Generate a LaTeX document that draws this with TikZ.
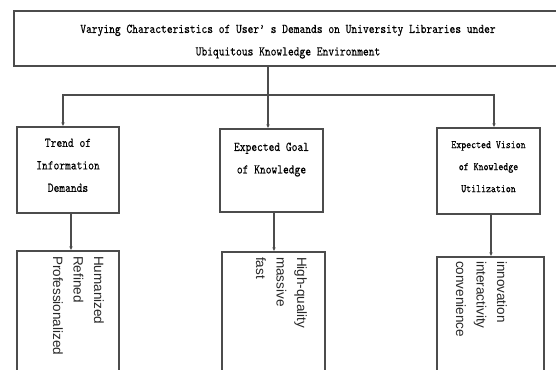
\documentclass[tikz,border=0pt]{standalone}
\usepackage{fontspec}
\setsansfont{Liberation Sans}
\newfontfamily\simfont[FakeStretch=0.82, FakeBold=0.3]{lmmono10-regular.otf}
\usetikzlibrary{arrows.meta}
\tikzstyle{box} = [draw=black!70, line width=1.1pt, rectangle, inner sep=0pt]
\tikzstyle{heading} = [align=center, inner sep=0pt, anchor=north, font=\simfont\fontsize{13.4}{22.5}\selectfont]
\tikzstyle{small heading} = [heading, font=\simfont\fontsize{11.5}{22}\selectfont]
\tikzstyle{items} = [align=left, inner sep=0pt, rotate=-90, anchor=north west, text=black!85, font=\sffamily\fontsize{13.5}{20.5}\selectfont]
\tikzstyle{link} = [draw=black!70, line width=1.1pt]
\tikzstyle{flow} = [link, -{Latex[length=4pt, width=3.5pt]}]

\begin{document}
\begin{tikzpicture}[x=1pt, y=-1pt]
    \useasboundingbox (0,0) rectangle (556,369);

    \node (title) [box, minimum width=548pt, minimum height=55pt] at (288,38.5) {};
    \node (title text) [heading] at ([yshift=-14pt]title.north) {Varying Characteristics of User’ s Demands on University Libraries under\\Ubiquitous Knowledge Environment};

    \node (trend) [box, minimum width=102pt, minimum height=86pt] at (68,170) {};
    \node (goal) [box, minimum width=103pt, minimum height=83pt] at (271.5,170.5) {};
    \node (vision) [box, minimum width=103pt, minimum height=86pt] at (488.5,171) {};

    \node (trend text) [heading] at ([yshift=-12pt]trend.north) {Trend of\\Information\\Demands};
    \node (goal text) [heading] at ([yshift=-14pt]goal.north) {Expected Goal\\of Knowledge};
    \node (vision text) [small heading] at ([yshift=-13.5pt]vision.north) {Expected Vision\\of Knowledge\\Utilization};

    \node (trend-list) [box, minimum width=102pt, minimum height=130pt] at (68,316) {};
    \node (goal-list) [box, minimum width=103pt, minimum height=130pt] at (273.5,317) {};
    \node (vision-list) [box, minimum width=107pt, minimum height=125pt] at (490.5,319.5) {};

    \node (trend items) [items] at (104,256) {Humanized\\Refined\\Professionalized};
    \node (goal items) [items] at (307,257) {High-quality\\massive\\fast};
    \node (vision items) [items] at (507,261) {innovation\\interactivity\\convenience};

    \coordinate (fork) at (268,95);
    \coordinate (fork left) at (63,95);
    \coordinate (fork right) at (494,95);

    \draw [link] (title.south -| fork) -- (fork);
    \draw [flow] (fork) -- (fork |- goal.north);
    \draw [flow] (fork) -- (fork left) -- (fork left |- trend.north);
    \draw [flow] (fork) -- (fork right) -- (fork right |- vision.north);

    \foreach \n/\dx in {trend/3, goal/2.5, vision/2.5} {
        \draw [flow] ([xshift=\dx pt]\n.south) -- ([xshift=\dx pt]\n.south |- \n-list.north);
    }
\end{tikzpicture}
\end{document}
